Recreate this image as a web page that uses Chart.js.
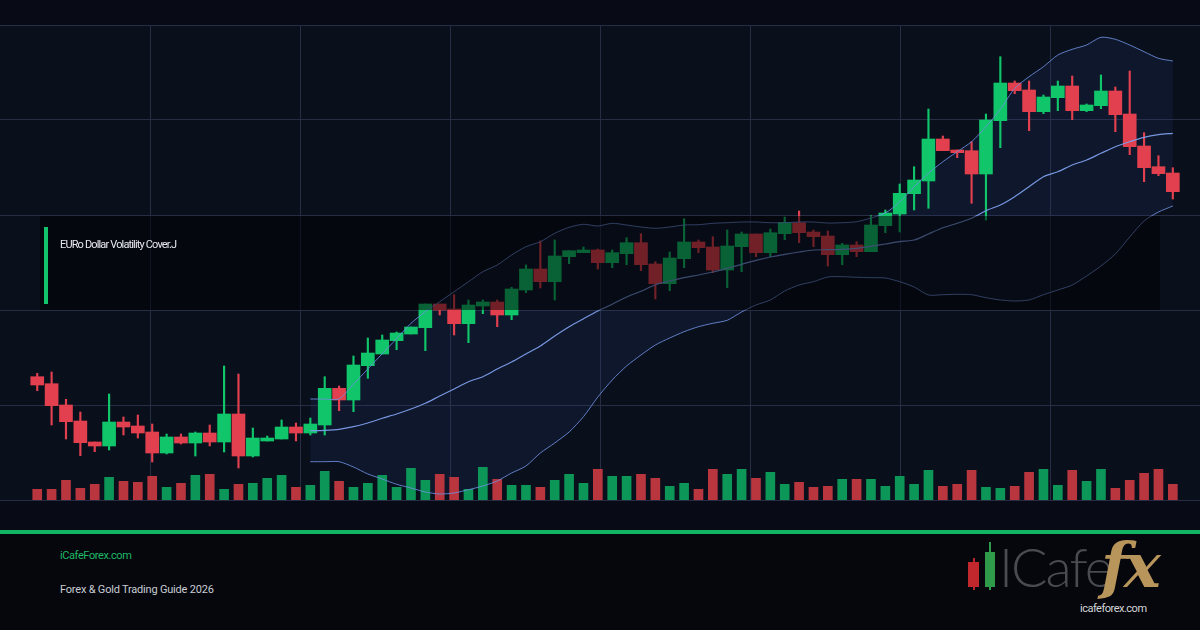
<!DOCTYPE html>
<html>
<head>
<meta charset="utf-8">
<title>EURo Dollar Volatility Cover.J</title>
<script src="https://cdn.jsdelivr.net/npm/chart.js@4.4.1/dist/chart.umd.min.js"></script>
<style>
  html, body { margin: 0; padding: 0; }
  body {
    width: 1200px; height: 630px; position: relative; overflow: hidden;
    background: #080b15; font-family: Roboto, "Noto Sans", sans-serif;
  }
  #chartWrap { position: absolute; left: 0; top: 0; width: 1200px; height: 520px; }
  #cover {
    position: absolute; left: 40px; top: 216px; width: 1120px; height: 94px;
    background: rgba(0, 0, 0, 0.5);
  }
  #cover .mark { position: absolute; left: 4px; top: 11px; width: 4px; height: 77px; background: #12c46b; }
  #cover .label {
    position: absolute; left: 20px; top: 22px; color: #e6e9ee;
    font-size: 11px; line-height: 13px; letter-spacing: -0.85px; white-space: nowrap;
  }
  #rule { position: absolute; left: 0; top: 530px; width: 1200px; height: 4px; background: #10b462; }
  #footer { position: absolute; left: 0; top: 534px; width: 1200px; height: 96px; background: #05070d; }
  .foot { position: absolute; left: 60px; font-size: 11px; line-height: 14px; white-space: nowrap; }
  #site { top: 549px; color: #1fb866; letter-spacing: -0.4px; }
  #guide { top: 583px; color: #c9cdd4; letter-spacing: -0.2px; }
  .logo-wick { position: absolute; width: 2px; }
  .logo-body { position: absolute; }
  #logoText {
    position: absolute; left: 999px; top: 537px; font-family: Lato, sans-serif; font-weight: 300;
    font-size: 54px; line-height: 60px; color: #4a4b50; letter-spacing: -2px; white-space: nowrap;
  }
  #logoFx {
    position: absolute; left: 1101px; top: 530px; font-family: "DejaVu Serif", serif; font-style: italic;
    font-weight: bold; font-size: 62px; line-height: 72px; color: #b8955a; letter-spacing: -4px;
  }
  #logoUrl {
    position: absolute; left: 1080px; top: 602px; font-size: 11px; line-height: 13px;
    color: #d6d6d8; letter-spacing: -0.5px;
  }
</style>
</head>
<body>
<div id="chartWrap"><canvas id="chart" width="1200" height="520"></canvas></div>
<div id="cover"><div class="mark"></div><div class="label" id="coverLabel"></div></div>
<div id="rule"></div>
<div id="footer"></div>
<div class="foot" id="site">iCafeForex.com</div>
<div class="foot" id="guide">Forex &amp; Gold Trading Guide 2026</div>
<div class="logo-wick" style="left:973px;top:558px;height:32px;background:#b8262c"></div>
<div class="logo-body" style="left:968px;top:562px;width:11px;height:25px;background:#c0282d"></div>
<div class="logo-wick" style="left:989px;top:542px;height:48px;background:#2e9a4a"></div>
<div class="logo-body" style="left:985px;top:552px;width:10px;height:35px;background:#2e9a4a"></div>
<div id="logoText">ICafe</div>
<div id="logoFx">fx</div>
<div id="logoUrl">icafeforex.com</div>
<script>
document.addEventListener('DOMContentLoaded', () => {
  const chartTitle = 'EURo Dollar Volatility Cover.J';

  // OHLC, one candle per session
  const open = [
    1.06233, 1.06163, 1.05950, 1.05790, 1.05580, 1.05540, 1.05780, 1.05740, 1.05680, 1.05470,
    1.05630, 1.05570, 1.05670, 1.05580, 1.05860, 1.05440, 1.05590, 1.05610, 1.05730, 1.05670,
    1.05750, 1.06117, 1.06000, 1.06343, 1.06460, 1.06593, 1.06660, 1.06723, 1.06960, 1.06910,
    1.06763, 1.06940, 1.06980, 1.06850, 1.07100, 1.07310, 1.07183, 1.07433, 1.07473, 1.07500,
    1.07373, 1.07463, 1.07573, 1.07360, 1.07163, 1.07413, 1.07580, 1.07530, 1.07300, 1.07533,
    1.07660, 1.07473, 1.07663, 1.07773, 1.07680, 1.07640, 1.07453, 1.07550, 1.07483, 1.07743,
    1.07860, 1.08063, 1.08190, 1.08610, 1.08500, 1.08493, 1.08260, 1.08793, 1.09170, 1.09100,
    1.08883, 1.09023, 1.09140, 1.08893, 1.08943, 1.09090, 1.08860, 1.08540, 1.08333, 1.08270
  ];
  const high = [
    1.06267, 1.06280, 1.06007, 1.05880, 1.05580, 1.06060, 1.05830, 1.05850, 1.05760, 1.05660,
    1.05660, 1.05680, 1.05750, 1.06340, 1.06260, 1.05720, 1.05640, 1.05800, 1.05770, 1.05820,
    1.06233, 1.06140, 1.06440, 1.06620, 1.06650, 1.06680, 1.06730, 1.06960, 1.06960, 1.07053,
    1.07000, 1.07000, 1.07000, 1.07127, 1.07350, 1.07590, 1.07600, 1.07493, 1.07530, 1.07510,
    1.07500, 1.07623, 1.07663, 1.07383, 1.07480, 1.07813, 1.07600, 1.07633, 1.07700, 1.07680,
    1.07660, 1.07710, 1.07830, 1.07890, 1.07700, 1.07690, 1.07567, 1.07583, 1.07843, 1.07900,
    1.08160, 1.08333, 1.08910, 1.08640, 1.08500, 1.08583, 1.08860, 1.09433, 1.09190, 1.09190,
    1.09050, 1.09190, 1.09240, 1.08960, 1.09250, 1.09130, 1.09290, 1.08673, 1.08443, 1.08323
  ];
  const low = [
    1.06093, 1.05750, 1.05610, 1.05443, 1.05483, 1.05500, 1.05650, 1.05620, 1.05380, 1.05460,
    1.05560, 1.05440, 1.05540, 1.05480, 1.05320, 1.05430, 1.05590, 1.05610, 1.05590, 1.05650,
    1.05650, 1.05893, 1.05883, 1.06217, 1.06460, 1.06503, 1.06660, 1.06493, 1.06850, 1.06650,
    1.06573, 1.06863, 1.06733, 1.06803, 1.07073, 1.07120, 1.07000, 1.07363, 1.07473, 1.07310,
    1.07323, 1.07353, 1.07293, 1.07010, 1.07093, 1.07323, 1.07473, 1.07273, 1.07123, 1.07283,
    1.07433, 1.07433, 1.07603, 1.07573, 1.07533, 1.07340, 1.07353, 1.07433, 1.07483, 1.07673,
    1.07680, 1.07900, 1.07917, 1.08493, 1.08423, 1.07967, 1.07800, 1.08523, 1.09063, 1.08693,
    1.08863, 1.08893, 1.08803, 1.08883, 1.08913, 1.08683, 1.08453, 1.08183, 1.08243, 1.08010
  ];
  const close = [
    1.06150, 1.05943, 1.05783, 1.05573, 1.05540, 1.05780, 1.05730, 1.05670, 1.05470, 1.05630,
    1.05570, 1.05670, 1.05580, 1.05860, 1.05440, 1.05620, 1.05620, 1.05730, 1.05670, 1.05760,
    1.06117, 1.06000, 1.06350, 1.06470, 1.06600, 1.06670, 1.06730, 1.06960, 1.06900, 1.06763,
    1.06950, 1.06980, 1.06850, 1.07110, 1.07310, 1.07183, 1.07440, 1.07493, 1.07500, 1.07373,
    1.07473, 1.07573, 1.07353, 1.07163, 1.07420, 1.07580, 1.07523, 1.07300, 1.07540, 1.07660,
    1.07473, 1.07673, 1.07777, 1.07673, 1.07633, 1.07453, 1.07550, 1.07483, 1.07750, 1.07870,
    1.08067, 1.08200, 1.08610, 1.08493, 1.08473, 1.08260, 1.08800, 1.09170, 1.09093, 1.08883,
    1.09030, 1.09140, 1.08893, 1.08950, 1.09090, 1.08853, 1.08533, 1.08323, 1.08263, 1.08083
  ];
  const volume = [
    1070, 1070, 1970, 1170, 1570, 2270, 1870, 1770, 2370, 1270,
    1670, 2470, 2570, 1070, 1570, 1670, 2170, 2470, 1270, 1470,
    2870, 1870, 1270, 1670, 2470, 1270, 3170, 1970, 2570, 2270,
    1070, 3270, 2070, 1470, 1470, 1270, 1970, 2570, 1670, 3070,
    2370, 2370, 2570, 2170, 1370, 1670, 1070, 3070, 2570, 3070,
    2170, 2770, 1570, 1770, 1270, 1370, 2070, 2070, 2070, 1370,
    2370, 1570, 2970, 1370, 1570, 2970, 1270, 1170, 1370, 2770,
    3070, 1470, 2970, 1870, 3070, 1170, 1970, 2670, 3070, 1570
  ];

  // Bollinger bands, first value belongs to candle bandStart
  const bandStart = 19;
  const bandUpper = [
    1.06010, 1.06010, 1.06010, 1.06160, 1.06310, 1.06463, 1.06613, 1.06767, 1.06883, 1.06983,
    1.07083, 1.07183, 1.07283, 1.07350, 1.07450, 1.07533, 1.07583, 1.07667, 1.07727, 1.07757,
    1.07740, 1.07767, 1.07750, 1.07730, 1.07717, 1.07730, 1.07750, 1.07753, 1.07767, 1.07773,
    1.07780, 1.07780, 1.07773, 1.07773, 1.07780, 1.07780, 1.07770, 1.07773, 1.07783, 1.07820,
    1.07870, 1.07980, 1.08133, 1.08267, 1.08383, 1.08483, 1.08583, 1.08733, 1.08907, 1.09117,
    1.09233, 1.09333, 1.09450, 1.09507, 1.09550, 1.09627, 1.09607, 1.09550, 1.09483, 1.09417,
    1.09390
  ];
  const bandMiddle = [
    1.05693, 1.05697, 1.05707, 1.05733, 1.05770, 1.05817, 1.05860, 1.05910, 1.05967, 1.06040,
    1.06110, 1.06183, 1.06233, 1.06310, 1.06380, 1.06460, 1.06540, 1.06640, 1.06733, 1.06813,
    1.06890, 1.06957, 1.07030, 1.07087, 1.07153, 1.07190, 1.07223, 1.07250, 1.07280, 1.07317,
    1.07357, 1.07397, 1.07430, 1.07457, 1.07480, 1.07500, 1.07503, 1.07507, 1.07517, 1.07537,
    1.07560, 1.07583, 1.07600, 1.07660, 1.07723, 1.07767, 1.07817, 1.07893, 1.07950, 1.08033,
    1.08133, 1.08233, 1.08283, 1.08350, 1.08400, 1.08467, 1.08533, 1.08583, 1.08627, 1.08653,
    1.08667
  ];
  const bandLower = [
    1.05383, 1.05383, 1.05383, 1.05330, 1.05260, 1.05210, 1.05157, 1.05120, 1.05080, 1.05060,
    1.05070, 1.05103, 1.05140, 1.05190, 1.05270, 1.05340, 1.05470, 1.05570, 1.05680, 1.05833,
    1.06030, 1.06200, 1.06340, 1.06450, 1.06550, 1.06620, 1.06683, 1.06733, 1.06767, 1.06797,
    1.06880, 1.06950, 1.07000, 1.07090, 1.07150, 1.07183, 1.07230, 1.07233, 1.07227, 1.07223,
    1.07220, 1.07183, 1.07130, 1.07050, 1.07053, 1.07057, 1.07053, 1.07023, 1.07000, 1.06990,
    1.07000, 1.07053, 1.07100, 1.07150, 1.07240, 1.07340, 1.07460, 1.07630, 1.07790, 1.07880,
    1.07940
  ];

  const UP = '#10c56a';
  const DOWN = '#e2404f';
  const UP_VOL = '#0c9657';
  const DOWN_VOL = '#b9363f';
  const BAND_LINE = 'rgba(110, 145, 225, 0.85)';
  const GRID = '#262d44';

  document.getElementById('coverLabel').textContent = chartTitle;

  const idx = open.map((_, i) => i);
  const isUp = i => close[i] >= open[i];
  const band = arr => arr.map((v, k) => ({ x: bandStart + k, y: v }));

  const areaFill = {
    id: 'areaFill',
    beforeDraw(chart) {
      const { ctx, chartArea: a } = chart;
      ctx.save();
      ctx.fillStyle = '#0a0f1c';
      ctx.fillRect(a.left, a.top, a.right - a.left, a.bottom - a.top);
      ctx.restore();
    }
  };

  const ctx = document.getElementById('chart').getContext('2d');
  new Chart(ctx, {
    type: 'bar',
    data: {
      datasets: [
        {
          type: 'line', label: 'Upper', data: band(bandUpper),
          borderColor: BAND_LINE, borderWidth: 1, pointRadius: 0, tension: 0.25,
          fill: '+2', backgroundColor: 'rgba(50, 80, 150, 0.13)', order: 1
        },
        {
          type: 'line', label: 'Middle', data: band(bandMiddle),
          borderColor: 'rgba(125, 158, 235, 0.95)', borderWidth: 1.2, pointRadius: 0, tension: 0.25,
          fill: false, order: 1
        },
        {
          type: 'line', label: 'Lower', data: band(bandLower),
          borderColor: BAND_LINE, borderWidth: 1, pointRadius: 0, tension: 0.25,
          fill: false, order: 1
        },
        {
          label: 'Body', data: idx.map(i => ({ x: i, y: [open[i], close[i]] })),
          backgroundColor: idx.map(i => isUp(i) ? UP : DOWN),
          barThickness: 13, minBarLength: 1, grouped: false, order: 2
        },
        {
          label: 'Wick', data: idx.map(i => ({ x: i, y: [low[i], high[i]] })),
          backgroundColor: idx.map(i => isUp(i) ? UP : DOWN),
          barThickness: 1.5, grouped: false, order: 3
        },
        {
          label: 'Volume', yAxisID: 'yv', data: idx.map(i => ({ x: i, y: volume[i] })),
          backgroundColor: idx.map(i => isUp(i) ? UP_VOL : DOWN_VOL),
          barThickness: 9, grouped: false, order: 4
        }
      ]
    },
    options: {
      responsive: false,
      animation: false,
      devicePixelRatio: 1,
      layout: { padding: { top: 25, bottom: 20, left: 0, right: 0 } },
      plugins: {
        legend: { display: false },
        tooltip: { enabled: false },
        filler: { drawTime: 'beforeDatasetsDraw' }
      },
      scales: {
        x: { type: 'linear', display: false, offset: false, min: -2.59, max: 80.89 },
        y: { type: 'linear', display: false, min: 1.05, max: 1.0975 },
        yv: { type: 'linear', axis: 'y', display: false, min: 0, max: 47500 },
        gx: {
          type: 'linear', axis: 'x', position: 'top', min: 0, max: 8, offset: false,
          ticks: { display: false, stepSize: 1 },
          border: { display: false },
          grid: {
            drawTicks: false, lineWidth: 1, offset: false,
            color: c => (c.tick && (c.tick.value === 0 || c.tick.value === 8)) ? 'rgba(0,0,0,0)' : GRID
          }
        },
        gy: {
          type: 'linear', axis: 'y', position: 'right', min: 0, max: 5,
          ticks: { display: false, stepSize: 1 },
          border: { display: false },
          grid: { drawTicks: false, lineWidth: 1, color: GRID }
        }
      }
    },
    plugins: [areaFill]
  });
});
</script>
</body>
</html>
